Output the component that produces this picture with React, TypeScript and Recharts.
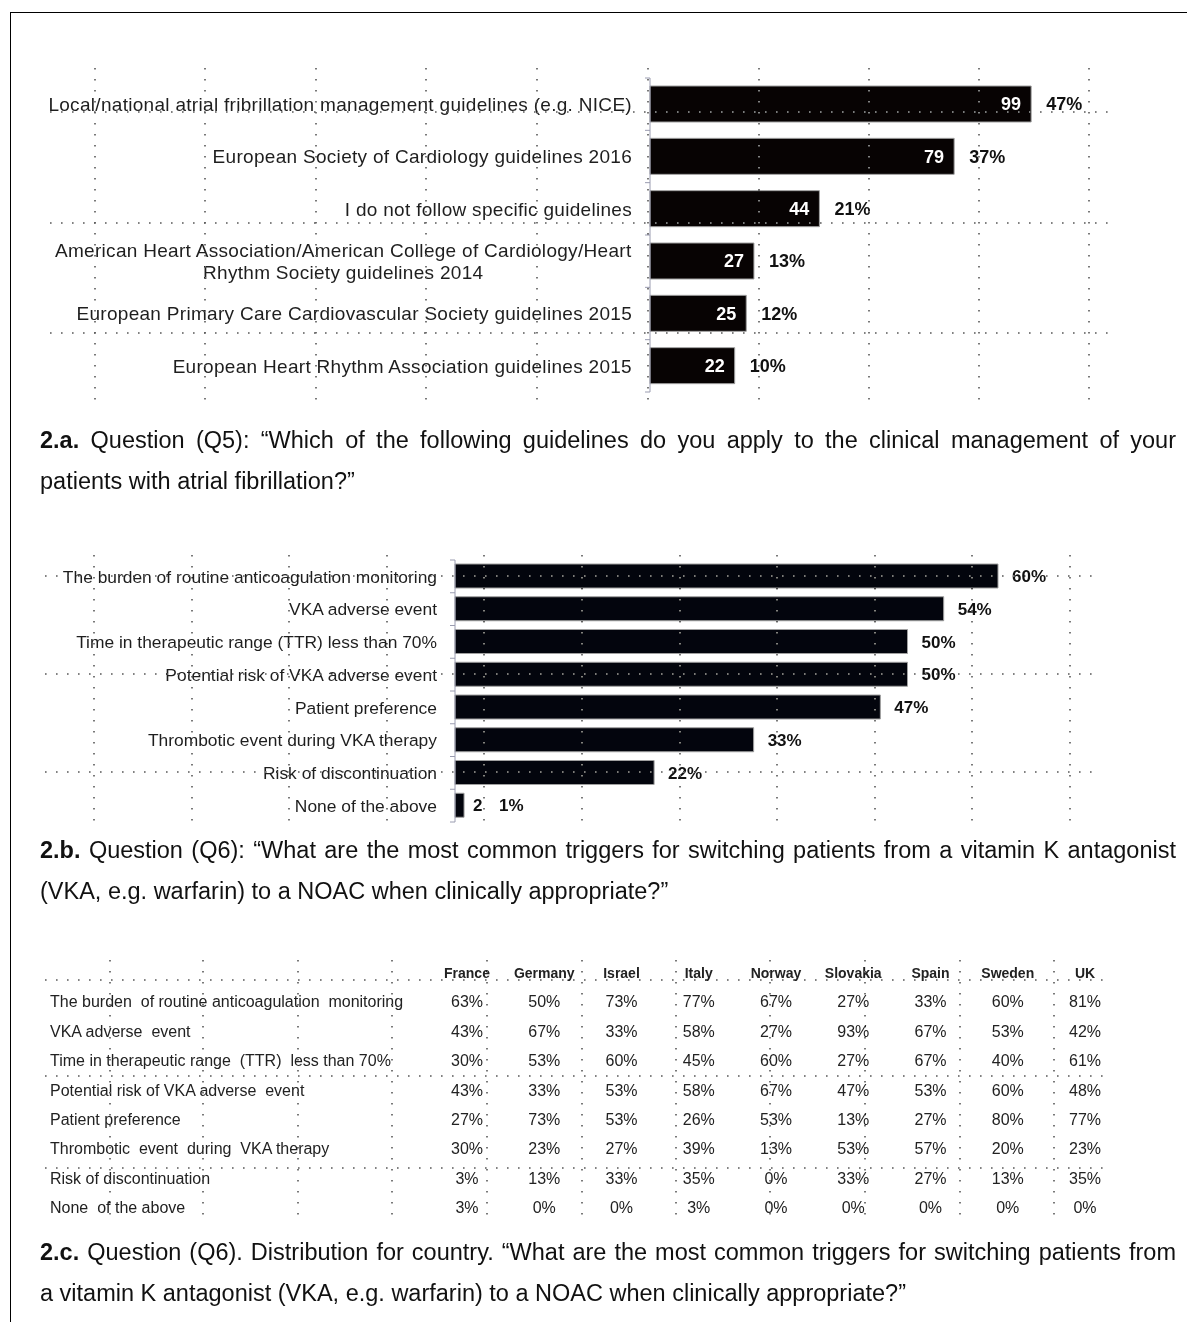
import React from "react";
import { BarChart, Bar, XAxis, YAxis, LabelList } from "recharts";

// ---- 2.a guidelines (Q5)
const guidelineNames = [
  "Local/national atrial fribrillation management guidelines (e.g. NICE)",
  "European Society of Cardiology guidelines 2016",
  "I do not follow specific guidelines",
  "American Heart Association/American College of Cardiology/Heart\nRhythm Society guidelines 2014",
  "European Primary Care Cardiovascular Society guidelines 2015",
  "European Heart Rhythm Association guidelines 2015",
];
const guidelineCounts = [99, 79, 44, 27, 25, 22];
const guidelinePcts = [47, 37, 21, 13, 12, 10];

// ---- 2.b triggers (Q6)
const triggerNames = [
  "The burden of routine anticoagulation monitoring",
  "VKA adverse event",
  "Time in therapeutic range (TTR)  less than 70%",
  "Potential risk of VKA adverse event",
  "Patient preference",
  "Thrombotic event during VKA therapy",
  "Risk of discontinuation",
  "None of the above",
];
const triggerPcts = [60, 54, 50, 50, 47, 33, 22, 1];
const triggerCounts: (number | null)[] = [null, null, null, null, null, null, null, 2];

// ---- 2.c by country
const countries = ["France", "Germany", "Israel", "Italy", "Norway", "Slovakia", "Spain", "Sweden", "UK"];
const tableRows = [
  "The burden  of routine anticoagulation  monitoring",
  "VKA adverse  event",
  "Time in therapeutic range  (TTR)  less than 70%",
  "Potential risk of VKA adverse  event",
  "Patient preference",
  "Thrombotic  event  during  VKA therapy",
  "Risk of discontinuation",
  "None  of the above",
];
const france = [63, 43, 30, 43, 27, 30, 3, 3];
const germany = [50, 67, 53, 33, 73, 23, 13, 0];
const israel = [73, 33, 60, 53, 53, 27, 33, 0];
const italy = [77, 58, 45, 58, 26, 39, 35, 3];
const norway = [67, 27, 60, 67, 53, 13, 0, 0];
const slovakia = [27, 93, 27, 47, 13, 53, 33, 0];
const spain = [33, 67, 67, 53, 27, 57, 27, 0];
const sweden = [60, 53, 40, 60, 80, 20, 13, 0];
const uk = [81, 42, 61, 48, 77, 23, 35, 0];
const countryValues = [france, germany, israel, italy, norway, slovakia, spain, sweden, uk];

const FONT = "'Liberation Sans', Arial, sans-serif";

const data1 = guidelineNames.map((name, i) => ({ name, count: guidelineCounts[i], pct: guidelinePcts[i] }));
const data2 = triggerNames.map((name, i) => ({ name, pct: triggerPcts[i], count: triggerCounts[i] }));

let measureCtx: CanvasRenderingContext2D | null = null;
function textWidth(s: string, font: string, ls: number) {
  if (!measureCtx) measureCtx = document.createElement("canvas").getContext("2d");
  if (!measureCtx) return s.length * 8;
  measureCtx.font = font;
  return measureCtx.measureText(s).width + s.length * ls;
}

function makeTick(band: number, count: number, fontSize: number, gap: number, ls: number) {
  return function Tick(props: any) {
    const { x, y, payload, index } = props;
    const axisX = x + 8;
    const lines = String(payload.value).split("\n");
    const tx = axisX - gap;
    const top = y - band / 2;
    const w0 = textWidth(lines[0], `${fontSize}px ${FONT}`, ls);
    return (
      <g>
        <line x1={axisX - 5} x2={axisX} y1={top} y2={top} stroke="#9a9cb0" />
        {index === count - 1 && (
          <line x1={axisX - 5} x2={axisX} y1={top + band} y2={top + band} stroke="#9a9cb0" />
        )}
        {lines.length === 1 ? (
          <text x={tx} y={y} dy="0.36em" textAnchor="end" fontSize={fontSize} letterSpacing={ls} fill="#1e1e1e" fontFamily={FONT}>
            {lines[0]}
          </text>
        ) : (
          lines.map((l, i) => (
            <text
              key={i}
              x={tx - w0 / 2}
              y={y + (i - (lines.length - 1) / 2) * 22}
              dy="0.36em"
              textAnchor="middle"
              fontSize={fontSize}
              letterSpacing={ls}
              fill="#1e1e1e"
              fontFamily={FONT}
            >
              {l}
            </text>
          ))
        )}
      </g>
    );
  };
}

const Tick1 = makeTick(314 / 6, 6, 19, 18, 0.3);
const Tick2 = makeTick(262 / 8, 8, 17.4, 18, 0);

function PctLabel2(props: any) {
  const { x, y, width, height, value, index } = props;
  const extra = triggerCounts[index] != null ? 35 : 14;
  return (
    <text x={x + width + extra} y={y + height / 2} dy="0.36em" fontSize={17} fontWeight="bold" fill="#111" fontFamily={FONT}>
      {value}%
    </text>
  );
}
function CountLabel2(props: any) {
  const { x, y, width, height, value } = props;
  if (value == null) return null;
  return (
    <text x={x + width + 9} y={y + height / 2} dy="0.36em" fontSize={17} fontWeight="bold" fill="#111" fontFamily={FONT}>
      {value}
    </text>
  );
}

// decorative dotted overlay (page grid)
const dotSets = [
  { vx: [95, 205, 316, 426, 537, 648, 759, 869, 979, 1089], y0: 68, y1: 402, hy: [112, 223, 333], x0: 50, x1: 1112 },
  { vx: [94, 192, 289, 387, 484, 582, 680, 777, 875, 972, 1070], y0: 555, y1: 822, hy: [576, 674, 772], x0: 45, x1: 1100 },
  { vx: [110, 203, 298, 392, 487, 582, 676, 770, 865, 960, 1054], y0: 960, y1: 1218, hy: [980, 1076, 1168], x0: 45, x1: 1112 },
];

function Caption({ top, label, line1, line2 }: { top: number; label: string; line1: string; line2: string }) {
  return (
    <div style={{ position: "absolute", left: 40, top, width: 1136, fontFamily: FONT, fontSize: 23.5, lineHeight: "41px", color: "#111" }}>
      <div style={{ textAlign: "justify", textAlignLast: "justify", whiteSpace: "nowrap" }}>
        <b>{label}</b> {line1}
      </div>
      <div>{line2}</div>
    </div>
  );
}

const COL0 = 467;
const COLW = 77.25;
const ROW0 = 973;
const ROWH = 29.4;

export default function App() {
  return (
    <div style={{ position: "relative", width: 1195, height: 1330, margin: -8, background: "#fff", overflow: "hidden", isolation: "isolate" }}>
      {/* page frame */}
      <div style={{ position: "absolute", left: 10, top: 12, width: 1185, height: 1, background: "#000" }} />
      <div style={{ position: "absolute", left: 10, top: 12, width: 1, height: 1318, background: "#000" }} />

      <div style={{ position: "absolute", left: 0, top: 0 }}>
        <BarChart width={1195} height={410} data={data1} layout="vertical" margin={{ top: 78, right: 83, left: 0, bottom: 18 }} barSize={36}>
          <XAxis type="number" domain={[0, 120]} hide />
          <YAxis type="category" dataKey="name" width={650} axisLine={{ stroke: "#9a9cb0" }} tickLine={false} tick={<Tick1 />} interval={0} />
          <Bar dataKey="count" fill="#070303" stroke="#a0a0a0" strokeWidth={1} isAnimationActive={false}>
            <LabelList dataKey="count" position="insideRight" offset={10} fill="#fff" fontSize={18} fontWeight="bold" fontFamily={FONT} />
            <LabelList dataKey="pct" position="right" offset={15} fill="#111" fontSize={18} fontWeight="bold" fontFamily={FONT} formatter={(v: any) => `${v}%`} />
          </Bar>
        </BarChart>
      </div>

      <Caption
        top={420}
        label="2.a."
        line1="Question (Q5): “Which of the following guidelines do you apply to the clinical management of your"
        line2="patients with atrial fibrillation?”"
      />

      <div style={{ position: "absolute", left: 0, top: 540 }}>
        <BarChart width={1195} height={302} data={data2} layout="vertical" margin={{ top: 20, right: 106.5, left: 0, bottom: 20 }} barSize={24}>
          <XAxis type="number" domain={[0, 70]} hide />
          <YAxis type="category" dataKey="name" width={455} axisLine={{ stroke: "#9a9cb0" }} tickLine={false} tick={<Tick2 />} interval={0} />
          <Bar dataKey="pct" fill="#03050d" stroke="#a0a0a0" strokeWidth={1} isAnimationActive={false}>
            <LabelList dataKey="count" content={<CountLabel2 />} />
            <LabelList dataKey="pct" content={<PctLabel2 />} />
          </Bar>
        </BarChart>
      </div>

      <Caption
        top={830}
        label="2.b."
        line1="Question (Q6): “What are the most common triggers for switching patients from a vitamin K antagonist"
        line2="(VKA, e.g. warfarin) to a NOAC when clinically appropriate?”"
      />

      {/* 2.c table */}
      {countries.map((c, j) => (
        <div
          key={c}
          style={{ position: "absolute", left: COL0 + j * COLW - 40, top: ROW0 - 10, width: 80, height: 20, lineHeight: "20px", textAlign: "center", fontFamily: FONT, fontSize: 14, fontWeight: "bold", color: "#222" }}
        >
          {c}
        </div>
      ))}
      {tableRows.map((r, i) => (
        <React.Fragment key={r}>
          <div
            style={{ position: "absolute", left: 50, top: ROW0 + (i + 1) * ROWH - 10, height: 20, lineHeight: "20px", whiteSpace: "pre", fontFamily: FONT, fontSize: 16, color: "#222" }}
          >
            {r}
          </div>
          {countryValues.map((vals, j) => (
            <div
              key={j}
              style={{ position: "absolute", left: COL0 + j * COLW - 40, top: ROW0 + (i + 1) * ROWH - 10, width: 80, height: 20, lineHeight: "20px", textAlign: "center", fontFamily: FONT, fontSize: 16, color: "#222" }}
            >
              {vals[i]}%
            </div>
          ))}
        </React.Fragment>
      ))}

      <Caption
        top={1232}
        label="2.c."
        line1="Question (Q6). Distribution for country.  “What are the most common triggers for switching patients from"
        line2="a vitamin K antagonist (VKA, e.g. warfarin) to a NOAC when clinically appropriate?”"
      />

      <svg width={1195} height={1330} style={{ position: "absolute", left: 0, top: 0, pointerEvents: "none", mixBlendMode: "difference" }}>
        {dotSets.map((s, k) => (
          <g key={k} stroke="#a8a8a8" strokeWidth={1.6} strokeDasharray="1.6 9.4">
            {s.vx.map((x) => (
              <line key={"v" + x} x1={x} x2={x} y1={s.y0} y2={s.y1} />
            ))}
            {s.hy.map((y) => (
              <line key={"h" + y} x1={s.x0} x2={s.x1} y1={y} y2={y} />
            ))}
          </g>
        ))}
      </svg>
    </div>
  );
}
